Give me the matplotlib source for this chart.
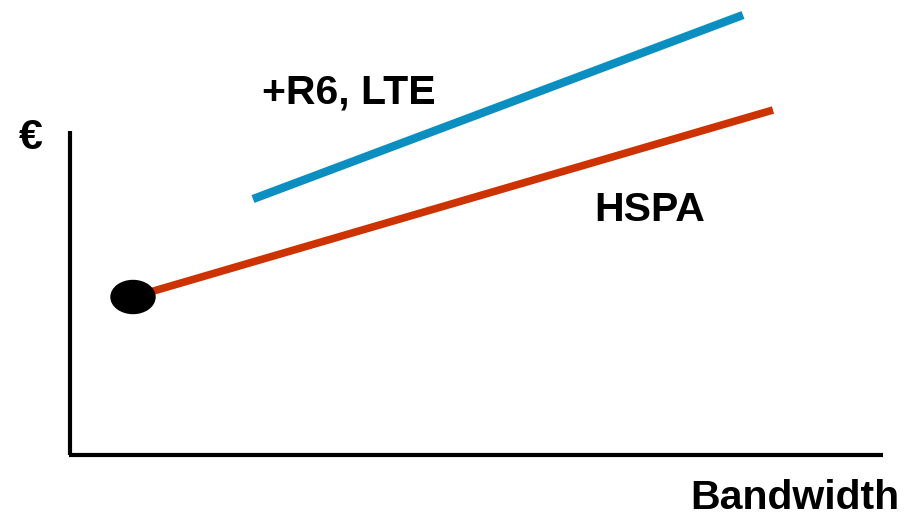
import matplotlib.pyplot as plt
from matplotlib.patches import Ellipse

# cost vs bandwidth sketch, axis origin at (0, 0)
hspa_x = [63, 703]
hspa_y = [158, 345]
lte_x = [183, 673]
lte_y = [256, 440]
start_point = (63, 158)

x_axis_len = 813
y_axis_len = 324

fig = plt.figure(figsize=(9.09, 5.16), dpi=100)
ax = fig.add_axes([0, 0, 1, 1])
ax.set_xlim(-70, 839)
ax.set_ylim(-61, 455)
ax.axis("off")

# axes drawn as plain lines
ax.plot([0, 0], [0, y_axis_len], color="black", lw=3, solid_capstyle="butt")
ax.plot([-1.5, x_axis_len], [0, 0], color="black", lw=3, solid_capstyle="butt")

ax.plot(lte_x, lte_y, color="#0a8fc0", lw=6, solid_capstyle="butt")
ax.plot(hspa_x, hspa_y, color="#cc3300", lw=5.5, solid_capstyle="butt")
ax.add_patch(Ellipse(start_point, 44, 33, color="black", zorder=5))

font = dict(family="Liberation Sans", weight="bold", color="black")
ax.text(-51, 306, "€", fontsize=31, ha="left", va="baseline", **font)
ax.text(192, 351, "+R6, LTE", fontsize=29.5, ha="left", va="baseline", **font)
ax.text(524, 234, "HSPA", fontsize=29.5, ha="left", va="baseline", **font)
ax.text(829, -54, "Bandwidth", fontsize=29.5, ha="right", va="baseline", **font)

fig.savefig("out.png", dpi=100)
